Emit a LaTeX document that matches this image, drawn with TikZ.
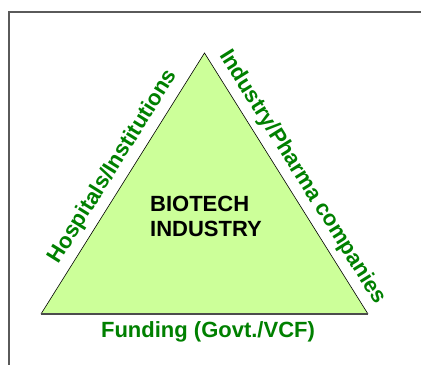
\documentclass[tikz,border=0pt]{standalone}
\usepackage{fontspec}
\setmainfont{Liberation Sans}
\usepackage{xcolor}
\usepackage{tikz}

\definecolor{leafgreen}{HTML}{CCFF99}
\definecolor{labelgreen}{HTML}{008000}
\definecolor{framegray}{HTML}{5A5A5A}

\tikzset{
	sidelabel/.style={text=labelgreen, font=\fontsize{22}{25}\selectfont\bfseries, inner sep=3pt},
	centerlabel/.style={text=black, font=\fontsize{22}{25}\selectfont\bfseries, align=left, inner sep=0pt}
}

\begin{document}
\begin{tikzpicture}[x=1pt, y=-1pt]
			\def\picw{421}
			\def\pich{365}
			\useasboundingbox (0,0) rectangle (\picw,\pich);

			% Frame (runs off the right and bottom)
			\draw [framegray, line width=1.5pt] (\picw,12) -- (9,12) -- (9,\pich);

			% Make corners
			\coordinate (apex) at (204.5,53);
			\coordinate (left) at (41,314);
			\coordinate (right) at (368,314);

			% Triangle
			\fill [leafgreen] (left) -- (apex) -- (right) -- cycle;
			\draw [line width=0.6pt] (left) -- (apex) -- (right);
			\draw [black!70, line width=1.2pt] (left) -- (right);

			% Make labels
			\path (left) -- (apex) node [sidelabel, pos=0.53, above=3.5pt, sloped] (hosp) {Hospitals/Institutions};
			\path (apex) -- (right) node [sidelabel, pos=0.51, above=3.5pt, sloped] (pharma) {Industry/Pharma companies};
			\path (left) -- (right) node [sidelabel, midway, below=4.5pt, xshift=3.5pt] (fund) {Funding (Govt./VCF)};

			\node [centerlabel] (biotech) at (206,216) {BIOTECH\\INDUSTRY};
		\end{tikzpicture}
\end{document}
